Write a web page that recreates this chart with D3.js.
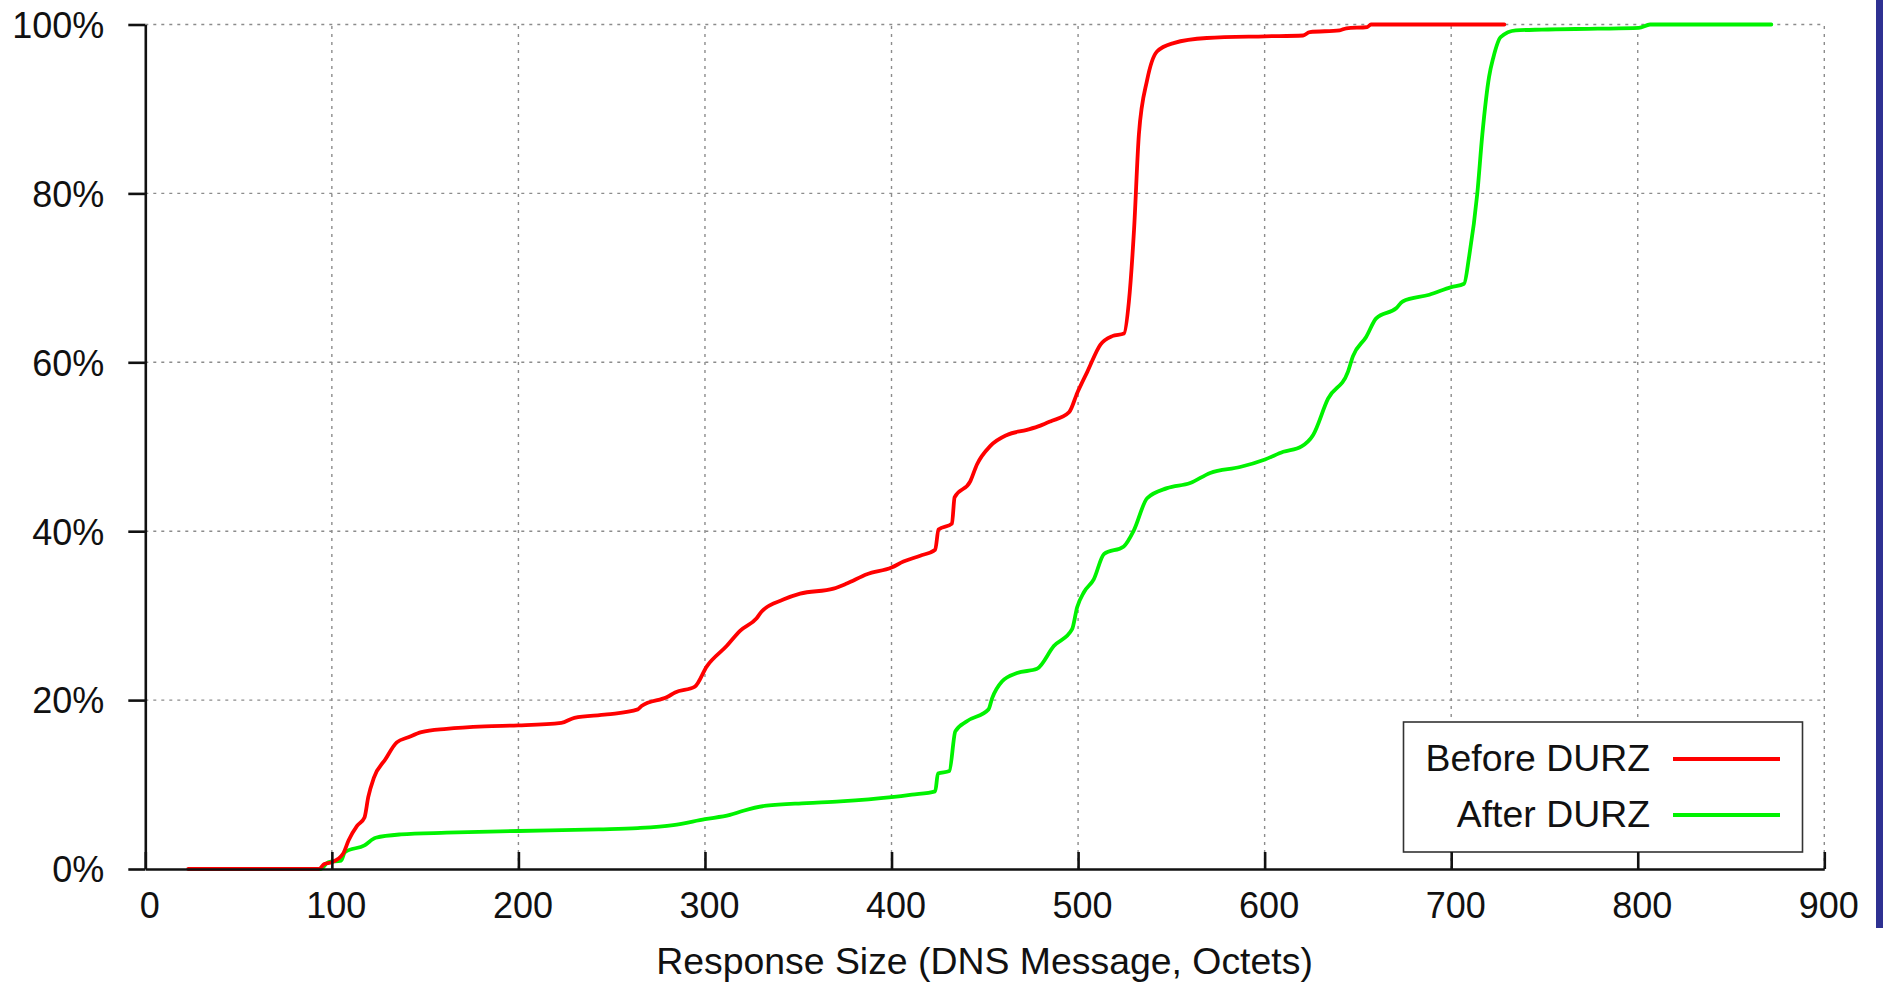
<!DOCTYPE html>
<html>
<head>
<meta charset="utf-8">
<script src="https://cdn.jsdelivr.net/npm/d3@7/dist/d3.min.js"></script>
<style>
  html, body { margin: 0; padding: 0; background: #fff; }
  svg { display: block; font-family: "Liberation Sans", Arial, Helvetica, sans-serif; }
</style>
</head>
<body>
<div id="container"></div>
<script>
// response size (octets) vs cumulative share (%)
var beforeSize = [23, 93, 96, 100, 106, 109, 113.5, 117.5, 119.5, 122.5, 128.7, 134.8, 141, 148, 161.5, 182, 200, 223, 230, 247.5, 264, 266, 280, 284, 294.6, 301, 311.6, 318.8, 327.7, 330.4, 342, 351, 368.9, 376, 386.8, 400, 406.4, 415.4, 423.4, 425.2, 432.4, 433.8, 442.2, 445.8, 453, 461.9, 472.6, 479.8, 485.1, 495.2, 499.6, 505, 512, 518.3, 524.6, 527.2, 530, 532.6, 537, 542.3, 551.2, 569, 600.2, 620.6, 624.2, 640.2, 643.8, 655, 657, 728.5];
var beforePct  = [0, 0, 0.6, 0.8, 1.8, 3.4, 5.1, 6.1, 8.5, 10.8, 13, 15, 15.6, 16.2, 16.6, 16.9, 17.0, 17.3, 17.9, 18.3, 18.9, 19.3, 20.4, 20.9, 21.6, 24.0, 26.4, 28.2, 29.7, 30.5, 31.9, 32.6, 33.2, 33.8, 34.9, 35.7, 36.4, 37.1, 37.8, 40.2, 40.9, 44, 45.9, 47.9, 50.1, 51.4, 52, 52.5, 53, 54.1, 56.4, 58.9, 62.1, 63.1, 63.4, 67.1, 75.7, 87, 93.4, 96.8, 97.8, 98.4, 98.6, 98.7, 99.1, 99.3, 99.55, 99.7, 100, 100];

var afterSize = [24, 94, 98, 105, 107, 117.5, 123.5, 137, 161.5, 200, 243, 264, 283, 300, 313.4, 320.6, 333, 354.6, 372.5, 400, 410.9, 423.4, 424.9, 431, 434.2, 440.4, 452, 453.9, 459.2, 467.3, 478, 487, 496.8, 499.5, 503.2, 508.4, 513.9, 524.5, 529.9, 537, 547.7, 560.1, 570.8, 586.8, 600.2, 610, 619.8, 626, 634, 644.7, 647.3, 654.4, 659.8, 670.5, 674, 688.3, 700, 706.9, 709.6, 714, 716.7, 720.3, 722.6, 726.5, 734.6, 748.6, 778.6, 800.6, 806.6, 871.6];
var afterPct  = [0, 0, 0.8, 1.0, 2.0, 2.8, 3.7, 4.1, 4.3, 4.5, 4.7, 4.85, 5.2, 5.9, 6.4, 6.9, 7.5, 7.8, 8.0, 8.5, 8.8, 9.2, 11.3, 11.6, 16.3, 17.5, 18.9, 20.2, 22.2, 23.2, 23.7, 26.4, 28.4, 31.0, 32.8, 34.3, 37.3, 38.2, 40.1, 43.9, 45.1, 45.7, 46.9, 47.6, 48.5, 49.4, 50.05, 51.4, 55.7, 58.9, 60.7, 63, 65.2, 66.4, 67.2, 68, 68.9, 69.3, 72.5, 80, 87, 93.8, 96.1, 98.5, 99.3, 99.4, 99.5, 99.6, 100, 100];

var seriesNames = ['Before DURZ', 'After DURZ'];
var seriesColors = ['#ff0000', '#00f200'];
var xTicks = [0, 100, 200, 300, 400, 500, 600, 700, 800, 900];
var yTicks = [0, 20, 40, 60, 80, 100];
var xTitle = 'Response Size (DNS Message, Octets)';

var width = 1884, height = 984;
var svg = d3.select('#container').append('svg')
    .attr('width', width)
    .attr('height', height);

var x = d3.scaleLinear().domain([0, 900]).range([145.3, 1824.3]);
var y = d3.scaleLinear().domain([0, 100]).range([869, 24.5]);

// dotted grid
var grid = svg.append('g')
    .attr('stroke', '#8c8c8c')
    .attr('stroke-width', 1.4)
    .attr('stroke-dasharray', '3,5');
grid.selectAll('line.h')
  .data(yTicks.filter(function(d) { return d > 0; }))
  .enter().append('line')
    .attr('x1', x(0)).attr('x2', x(900))
    .attr('y1', function(d) { return y(d); })
    .attr('y2', function(d) { return y(d); });
grid.selectAll('line.v')
  .data(xTicks.filter(function(d) { return d > 0; }))
  .enter().append('line')
    .attr('x1', function(d) { return x(d); })
    .attr('x2', function(d) { return x(d); })
    .attr('y1', y(0)).attr('y2', y(100));

// curves
var series = [
  { name: seriesNames[0], color: seriesColors[0], size: beforeSize, pct: beforePct },
  { name: seriesNames[1], color: seriesColors[1], size: afterSize, pct: afterPct }
];
var line = d3.line()
    .curve(d3.curveMonotoneX)
    .x(function(d) { return x(d[0]); })
    .y(function(d) { return y(d[1]); });

svg.append('g').selectAll('path')
  .data(series.slice().reverse())
  .enter().append('path')
    .attr('fill', 'none')
    .attr('stroke', function(d) { return d.color; })
    .attr('stroke-width', 3.8)
    .attr('stroke-linejoin', 'round')
    .attr('stroke-linecap', 'round')
    .attr('d', function(d) { return line(d3.zip(d.size, d.pct)); });

// legend (white box, sits above grid + curves)
var leg = svg.append('g');
leg.append('rect')
    .attr('x', 1403.5).attr('y', 722)
    .attr('width', 399).attr('height', 130)
    .attr('fill', '#fff')
    .attr('stroke', '#333')
    .attr('stroke-width', 1.6);
var items = leg.selectAll('g.item')
  .data(series)
  .enter().append('g')
    .attr('transform', function(d, i) { return 'translate(0,' + (i * 56) + ')'; });
items.append('text')
    .attr('x', 1650).attr('y', 770.5)
    .attr('text-anchor', 'end')
    .attr('font-size', 37.4)
    .attr('fill', '#111')
    .text(function(d) { return d.name; });
items.append('line')
    .attr('x1', 1673).attr('x2', 1780)
    .attr('y1', 759).attr('y2', 759)
    .attr('stroke', function(d) { return d.color; })
    .attr('stroke-width', 3.8);

// axes
var xAxis = svg.append('g')
    .attr('transform', 'translate(0,' + y(0) + ')')
    .call(d3.axisBottom(x).tickValues(xTicks).tickSizeInner(-17).tickSizeOuter(0).tickFormat(d3.format('d')));
xAxis.selectAll('text')
    .attr('y', 49).attr('dy', null).attr('dx', 4)
    .attr('font-size', 36);

var yAxis = svg.append('g')
    .attr('transform', 'translate(' + x(0) + ',0)')
    .call(d3.axisLeft(y).tickValues(yTicks).tickSize(17).tickSizeOuter(0).tickFormat(function(d) { return d + '%'; }));
yAxis.selectAll('text')
    .attr('x', -41).attr('dy', null).attr('y', 12.8)
    .attr('font-size', 36);

svg.selectAll('.domain, .tick line')
    .attr('stroke', '#111')
    .attr('stroke-width', 2.6);
svg.selectAll('.tick text').attr('fill', '#111');
xAxis.attr('font-family', null);
yAxis.attr('font-family', null);

svg.append('text')
    .attr('x', 984.5).attr('y', 974)
    .attr('text-anchor', 'middle')
    .attr('font-size', 37.4)
    .attr('fill', '#111')
    .text(xTitle);

// slide frame edge on the right
svg.append('rect')
    .attr('x', 1876).attr('y', 0)
    .attr('width', 7).attr('height', 928)
    .attr('fill', '#2e3192');
</script>
</body>
</html>
